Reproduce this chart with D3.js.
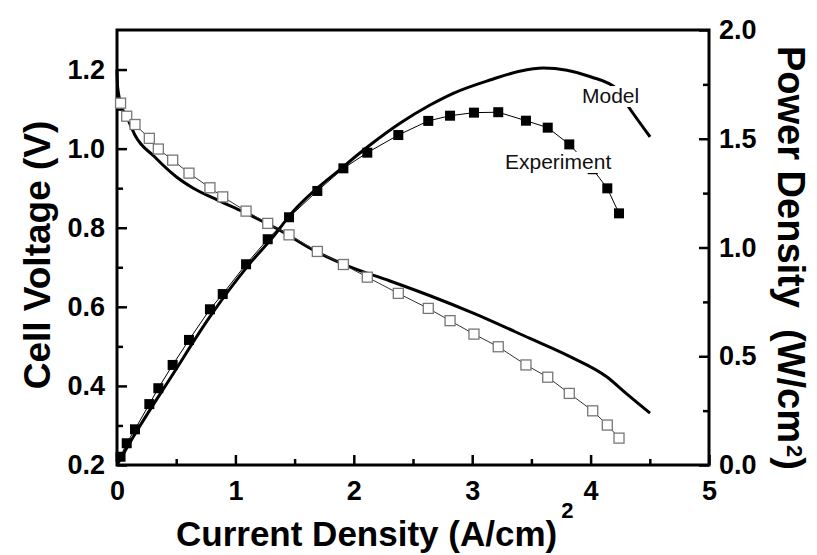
<!DOCTYPE html>
<html>
<head>
<meta charset="utf-8">
<script src="https://cdn.jsdelivr.net/npm/d3@7"></script>
<style>
  body { margin: 0; background: #fff; }
  svg { display: block; font-family: "Liberation Sans", Arial, sans-serif; }
</style>
</head>
<body>
<div id="chart"></div>
<script>
// tick values
var xTicks = [0, 1, 2, 3, 4, 5];
var xMinor = [0.5, 1.5, 2.5, 3.5, 4.5];
var vTicks = [0.2, 0.4, 0.6, 0.8, 1.0, 1.2];
var vMinor = [0.3, 0.5, 0.7, 0.9, 1.1];
var pTicks = [0.0, 0.5, 1.0, 1.5, 2.0];
var pMinor = [0.25, 0.75, 1.25, 1.75];

// model curves
var modelI = [0, 0.005, 0.04, 0.095, 0.152, 0.315, 0.5, 0.645, 0.85, 1.067, 1.349, 1.687, 1.968, 2.3, 2.644, 3.009, 3.488, 3.826, 4.136, 4.3, 4.502];
var modelV = [1.2, 1.157, 1.106, 1.072, 1.034, 0.98, 0.929, 0.9, 0.87, 0.84, 0.798, 0.739, 0.701, 0.666, 0.628, 0.584, 0.52, 0.474, 0.423, 0.381, 0.331];
var modelPI = [0, 0.138, 0.476, 0.785, 1.123, 1.32, 1.461, 1.911, 2.137, 2.39, 2.644, 2.84, 3.15, 3.4, 3.6, 3.8, 4.0, 4.22, 4.32, 4.502];
var modelP = [0, 0.13, 0.421, 0.682, 0.927, 1.05, 1.149, 1.371, 1.471, 1.571, 1.655, 1.709, 1.77, 1.81, 1.825, 1.815, 1.785, 1.729, 1.647, 1.509];

// experiment points
var expI = [0.03, 0.082, 0.152, 0.273, 0.349, 0.47, 0.608, 0.785, 0.893, 1.09, 1.273, 1.453, 1.692, 1.912, 2.114, 2.376, 2.629, 2.813, 3.015, 3.22, 3.454, 3.638, 3.82, 4.018, 4.141, 4.24];
var expV = [1.115, 1.082, 1.061, 1.026, 0.999, 0.971, 0.938, 0.901, 0.878, 0.842, 0.811, 0.782, 0.740, 0.707, 0.675, 0.634, 0.596, 0.565, 0.531, 0.499, 0.453, 0.422, 0.381, 0.337, 0.301, 0.268];
var expP = [0.038, 0.100, 0.164, 0.28, 0.353, 0.46, 0.575, 0.716, 0.786, 0.923, 1.038, 1.139, 1.26, 1.364, 1.436, 1.517, 1.582, 1.606, 1.62, 1.622, 1.583, 1.551, 1.474, 1.36, 1.272, 1.157];

var W = 817, H = 555;
var margin = {left: 117, right: 709, top: 30, bottom: 465};

var svg = d3.select("#chart").append("svg")
    .attr("width", W)
    .attr("height", H);

var x = d3.scaleLinear().domain([0, 5]).range([margin.left, margin.right]);
var yV = d3.scaleLinear().domain([0.2, 1.3]).range([margin.bottom, margin.top]);
var yP = d3.scaleLinear().domain([0, 2]).range([margin.bottom, margin.top]);

function styleAxis(g) {
  g.select(".domain").remove();
  g.selectAll(".tick line").attr("stroke", "#000").attr("stroke-width", 2.5);
  g.selectAll("text").attr("font-size", 27).attr("font-weight", "bold").attr("fill", "#000")
    .attr("font-family", "'Liberation Sans', Arial, sans-serif");
}

// minor ticks first
svg.append("g").attr("transform", "translate(0," + margin.bottom + ")")
  .call(d3.axisBottom(x).tickValues(xMinor).tickSize(-6).tickFormat(""))
  .call(styleAxis);
svg.append("g").attr("transform", "translate(" + margin.left + ",0)")
  .call(d3.axisLeft(yV).tickValues(vMinor).tickSize(-6).tickFormat(""))
  .call(styleAxis);
svg.append("g").attr("transform", "translate(" + margin.right + ",0)")
  .call(d3.axisRight(yP).tickValues(pMinor).tickSize(-6).tickFormat(""))
  .call(styleAxis);

// major ticks
svg.append("g").attr("transform", "translate(0," + margin.bottom + ")")
  .call(d3.axisBottom(x).tickValues(xTicks).tickSizeInner(-10).tickSizeOuter(0).tickPadding(16).tickFormat(d3.format("d")))
  .call(styleAxis);
svg.append("g").attr("transform", "translate(" + margin.left + ",0)")
  .call(d3.axisLeft(yV).tickValues(vTicks).tickSizeInner(-10).tickSizeOuter(0).tickPadding(12).tickFormat(d3.format(".1f")))
  .call(styleAxis);
svg.append("g").attr("transform", "translate(" + margin.right + ",0)")
  .call(d3.axisRight(yP).tickValues(pTicks).tickSizeInner(-10).tickSizeOuter(0).tickPadding(10).tickFormat(d3.format(".1f")))
  .call(styleAxis);

// frame
svg.append("rect")
  .attr("x", margin.left).attr("y", margin.top)
  .attr("width", margin.right - margin.left).attr("height", margin.bottom - margin.top)
  .attr("fill", "none").attr("stroke", "#000").attr("stroke-width", 3);

var lineV = d3.line().x(function(d) { return x(d[0]); }).y(function(d) { return yV(d[1]); }).curve(d3.curveMonotoneX);
var lineP = d3.line().x(function(d) { return x(d[0]); }).y(function(d) { return yP(d[1]); }).curve(d3.curveMonotoneX);
var segV = d3.line().x(function(d) { return x(d[0]); }).y(function(d) { return yV(d[1]); });
var segP = d3.line().x(function(d) { return x(d[0]); }).y(function(d) { return yP(d[1]); });

var mV = d3.zip(modelI, modelV);
var mP = d3.zip(modelPI, modelP);
var eV = d3.zip(expI, expV);
var eP = d3.zip(expI, expP);

// model curves
svg.append("path").attr("d", lineV(mV))
  .attr("fill", "none").attr("stroke", "#000").attr("stroke-width", 3);
svg.append("path").attr("d", lineP(mP))
  .attr("fill", "none").attr("stroke", "#000").attr("stroke-width", 3);

// experiment lines
svg.append("path").attr("d", segV(eV))
  .attr("fill", "none").attr("stroke", "#333").attr("stroke-width", 1);
svg.append("path").attr("d", segP(eP))
  .attr("fill", "none").attr("stroke", "#000").attr("stroke-width", 1);

var s = 10;
svg.selectAll(".openSq").data(eV).enter().append("rect")
  .attr("x", function(d) { return x(d[0]) - s / 2; })
  .attr("y", function(d) { return yV(d[1]) - s / 2; })
  .attr("width", s).attr("height", s)
  .attr("fill", "#fff").attr("stroke", "#777").attr("stroke-width", 1.3);
svg.selectAll(".fillSq").data(eP).enter().append("rect")
  .attr("x", function(d) { return x(d[0]) - s / 2; })
  .attr("y", function(d) { return yP(d[1]) - s / 2; })
  .attr("width", s).attr("height", s)
  .attr("fill", "#000");

// curve labels (with white backing like the original)
function label(txt, tx, ty) {
  var t = svg.append("text").attr("x", tx).attr("y", ty)
    .attr("font-size", 21).attr("fill", "#111").text(txt);
  var b = t.node().getBBox();
  svg.insert("rect", function() { return t.node(); })
    .attr("x", b.x - 2).attr("y", b.y + 2).attr("width", b.width + 4).attr("height", b.height - 2)
    .attr("fill", "#fff");
}
label("Model", 582, 103);
label("Experiment", 505, 169);

// axis titles
svg.append("text")
  .attr("transform", "translate(50,255) rotate(-90)")
  .attr("text-anchor", "middle")
  .attr("font-size", 37).attr("font-weight", "bold")
  .text("Cell Voltage (V)");

var xt = svg.append("text")
  .attr("x", 176).attr("y", 546)
  .attr("font-size", 35).attr("font-weight", "bold");
xt.append("tspan").text("Current Density (A/cm)");
xt.append("tspan").attr("font-size", 22).attr("dy", -28).attr("dx", 4).text("2");

var rt = svg.append("text")
  .attr("transform", "translate(778,46) rotate(90)")
  .attr("font-size", 38).attr("font-weight", "bold")
  .style("white-space", "pre");
rt.append("tspan").text("Power Density  (W/cm");
rt.append("tspan").attr("font-size", 22).attr("dx", 2).attr("dy", -9).text("2");
rt.append("tspan").attr("dy", 9).text(")");
</script>
</body>
</html>
